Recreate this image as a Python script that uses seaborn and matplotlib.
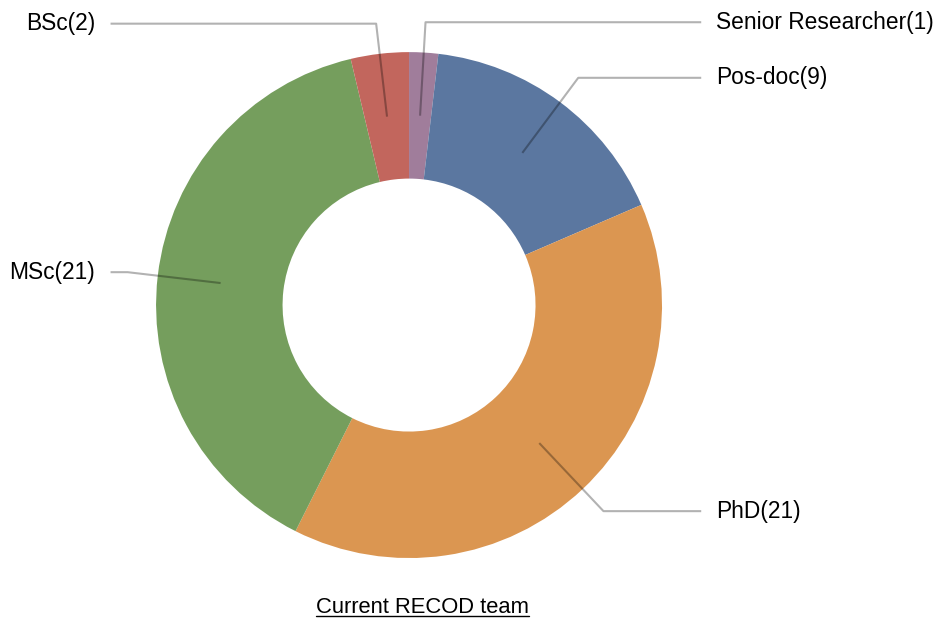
import numpy as np
import matplotlib
matplotlib.use("Agg")
import matplotlib.pyplot as plt
from matplotlib.lines import Line2D
import seaborn as sns

# team composition
roles = ["Senior Researcher", "Pos-doc", "PhD", "MSc", "BSc"]
counts = [1, 9, 21, 21, 2]
colors = ["#a07d9b", "#5b77a0", "#db9651", "#759e5d", "#c2665d"]
title = "Current RECOD team"

sns.set_theme(style="white")
plt.rcParams['font.family'] = ['Liberation Sans', 'DejaVu Sans']

fig = plt.figure(figsize=(9.38, 6.19), dpi=100)
ax = fig.add_axes([0, 0, 1, 1])

wedges, _ = ax.pie(counts, colors=colors, startangle=90, counterclock=False,
                   radius=1, wedgeprops=dict(width=0.5, linewidth=0))
ax.set_aspect('auto')
ax.set_xlim(-1.617, 2.091)
ax.set_ylim(-1.241, 1.206)
ax.axis('off')

# leader lines + labels
for w, lab, n in zip(wedges, roles, counts):
    ang = np.deg2rad((w.theta1 + w.theta2) / 2)
    c, s = np.cos(ang), np.sin(ang)
    side = 1 if c > 0 else -1
    x0, y0 = 0.75 * c, 0.75 * s
    x1, y1 = 1.12 * c, 1.12 * s
    x2 = (1.155 if side > 0 else 1.18) * side
    ax.plot([x0, x1, x2], [y0, y1, y1], color='black', alpha=0.3, lw=1.5,
            solid_capstyle='butt')
    ax.text(x2 + 0.06 * side, y1, f"{lab}({n})", fontsize=16.4, color='black',
            ha='left' if side > 0 else 'right', va='center')

t = ax.text(0.055, -1.194, title, fontsize=15.8, ha='center', va='center', color='black')

# underline the title
fig.canvas.draw()
bb = t.get_window_extent()
W, H = fig.bbox.width, fig.bbox.height
fig.add_artist(Line2D([bb.x0 / W, bb.x1 / W], [(bb.y0 + 1.5) / H, (bb.y0 + 1.5) / H],
                      color='black', lw=1, transform=fig.transFigure))

fig.savefig('out.png', dpi=100)
